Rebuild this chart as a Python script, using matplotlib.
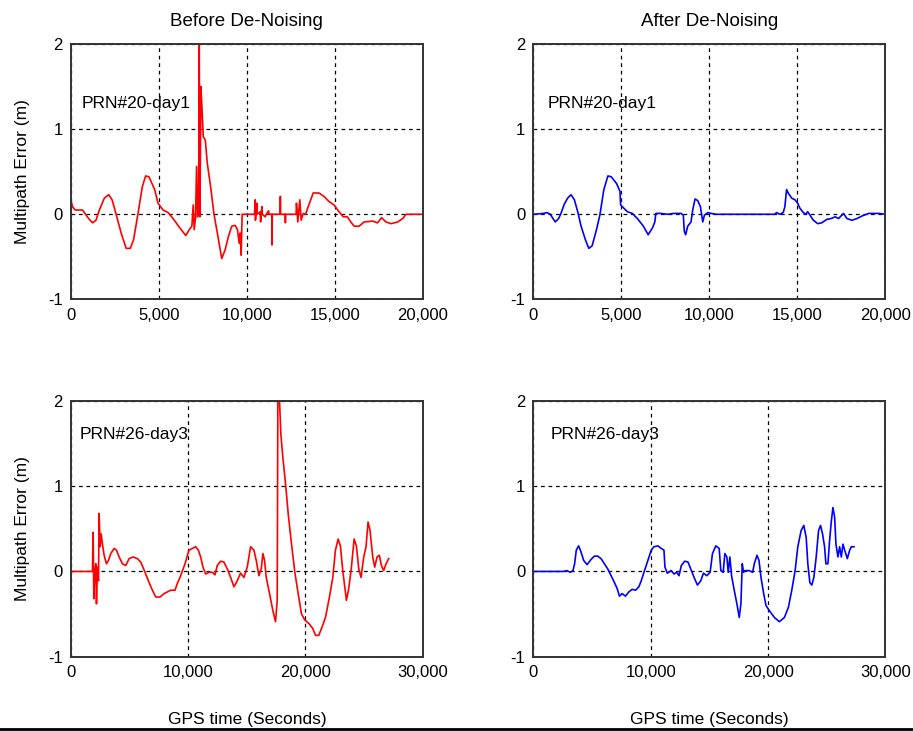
import matplotlib
matplotlib.use("Agg")
import matplotlib.pyplot as plt
from matplotlib.lines import Line2D
from matplotlib.ticker import StrMethodFormatter

plt.rcParams['font.family'] = ['Liberation Sans', 'DejaVu Sans']
plt.rcParams['axes.unicode_minus'] = False

# PRN#20 day1, before de-noising (red)
tl_x = [0, 95, 248, 667, 762, 1048, 1238, 1429, 1619, 1905, 2153, 2343, 2572, 2858,
        3143, 3372, 3562, 3810, 4058, 4248, 4439, 4763, 4953, 5239, 5525, 5810, 6191,
        6534, 6725, 6877, 6953, 7010, 7087, 7144, 7201, 7258, 7296, 7334, 7391, 7448,
        7525, 7639, 7753, 7944, 8134, 8325, 8573, 8763, 8953, 9144, 9334, 9468, 9563,
        9620, 9677, 9734, 10440, 10478, 10490, 10520, 10573, 10590, 10764, 10780, 10859,
        10880, 11049, 11100, 11240, 11260, 11420, 11430, 11445, 11890, 11906, 11920,
        12180, 12192, 12205, 12800, 12821, 12897, 13011, 13087, 13201, 13334, 13525,
        13772, 14096, 14382, 14668, 14953, 15239, 15486, 15715, 15906, 16096, 16382,
        16668, 17144, 17430, 17659, 17906, 18192, 18573, 18859, 19050, 20000]
tl_y = [0.17, 0.09, 0.05, 0.05, 0.02, -0.06, -0.10, -0.07, 0.05, 0.19, 0.23, 0.17, 0.0,
        -0.22, -0.40, -0.40, -0.30, 0.0, 0.32, 0.45, 0.44, 0.29, 0.13, 0.05, 0.02, -0.05,
        -0.16, -0.25, -0.18, -0.14, 0.11, -0.18, -0.03, 0.56, -0.03, 0.05, 2.0, -0.03,
        1.50, 1.26, 0.91, 0.87, 0.60, 0.32, 0.0, -0.22, -0.52, -0.42, -0.26, -0.14, -0.13,
        -0.18, -0.34, -0.22, -0.48, 0.0, 0.0, 0.17, -0.07, 0.0, 0.13, 0.0, 0.03, -0.09,
        0.09, 0.0, -0.03, 0.0, 0.04, 0.0, 0.0, -0.36, 0.0, 0.0, 0.21, 0.0, 0.0, -0.10,
        0.0, 0.0, 0.13, -0.09, 0.17, -0.07, 0.01, 0.0, 0.11, 0.25, 0.25, 0.21, 0.15,
        0.11, 0.03, -0.03, -0.03, -0.09, -0.14, -0.14, -0.09, -0.08, -0.10, -0.04, -0.09,
        -0.11, -0.09, -0.05, 0.0, 0.0]

# PRN#20 day1, after de-noising (blue)
tr_x = [0, 571, 762, 952, 1143, 1238, 1429, 1562, 1753, 1943, 2134, 2324, 2515, 2705,
        2953, 3143, 3334, 3581, 3772, 4000, 4229, 4420, 4724, 4915, 4953, 5144, 5334,
        5620, 5905, 6248, 6515, 6763, 6896, 6953, 7239, 7620, 8001, 8382, 8515, 8572,
        8648, 8763, 8953, 9048, 9182, 9334, 9486, 9620, 9715, 9906, 10096, 10382, 13716,
        13811, 14001, 14192, 14287, 14382, 14477, 14668, 14858, 15010, 15144, 15334,
        15467, 15581, 15715, 15905, 16153, 16382, 16668, 16915, 17144, 17334, 17620,
        17811, 18096, 18382, 18668, 19050, 19620, 20000]
tr_y = [0.0, 0.01, 0.02, 0.0, -0.06, -0.09, -0.05, 0.01, 0.12, 0.19, 0.23, 0.17, 0.03,
        -0.14, -0.30, -0.40, -0.37, -0.18, -0.01, 0.29, 0.45, 0.44, 0.36, 0.27, 0.11,
        0.07, 0.03, 0.01, -0.05, -0.14, -0.24, -0.16, -0.09, 0.01, 0.01, 0.0, 0.01, 0.01,
        -0.01, -0.20, -0.24, -0.14, -0.09, 0.05, 0.18, 0.16, 0.09, -0.09, -0.01, 0.02,
        0.01, 0.0, 0.0, 0.02, 0.0, 0.02, 0.09, 0.29, 0.25, 0.19, 0.17, 0.13, 0.07, 0.02,
        0.0, 0.03, -0.01, -0.07, -0.11, -0.10, -0.06, -0.05, -0.03, -0.05, 0.01, -0.05,
        -0.07, -0.05, -0.02, 0.01, 0.01, 0.0]

# PRN#26 day3, before de-noising (red)
bl_x = [0, 1844, 1901, 1957, 2043, 2128, 2184, 2270, 2355, 2411, 2497, 2582, 2695, 2837,
        3035, 3206, 3404, 3688, 3887, 4114, 4397, 4681, 4965, 5305, 5674, 5958, 6327,
        6667, 6951, 7235, 7603, 7944, 8228, 8511, 8880, 9078, 9362, 9731, 10071, 10355,
        10639, 10866, 11064, 11263, 11490, 11773, 12057, 12284, 12483, 12766, 13050,
        13334, 13618, 13902, 14185, 14469, 14752, 15036, 15320, 15604, 15802, 16029,
        16228, 16370, 16511, 16653, 16937, 17220, 17447, 17589, 17646, 17788, 17901,
        18071, 18298, 18525, 18809, 19092, 19376, 19659, 19943, 20283, 20624, 20851,
        21134, 21418, 21702, 22042, 22326, 22553, 22780, 22978, 23177, 23347, 23489,
        23688, 23915, 24142, 24340, 24539, 24737, 24964, 25163, 25333, 25503, 25730,
        25900, 26099, 26297, 26467, 26666, 26864, 27091]
bl_y = [0.0, 0.0, 0.46, -0.32, 0.0, 0.09, -0.38, 0.05, -0.11, 0.68, 0.29, 0.44, 0.32,
        0.19, 0.09, 0.13, 0.21, 0.27, 0.25, 0.17, 0.09, 0.07, 0.15, 0.17, 0.15, 0.11,
        -0.01, -0.13, -0.22, -0.30, -0.30, -0.26, -0.24, -0.22, -0.22, -0.14, -0.05,
        0.09, 0.25, 0.27, 0.29, 0.25, 0.17, 0.05, -0.03, -0.01, -0.01, -0.04, 0.07, 0.12,
        0.11, 0.03, -0.07, -0.18, -0.11, -0.02, -0.07, 0.05, 0.29, 0.25, 0.13, -0.05,
        0.03, 0.21, 0.13, -0.07, -0.26, -0.46, -0.59, -0.34, 2.0, 2.0, 1.61, 1.34, 1.03,
        0.68, 0.32, -0.01, -0.26, -0.50, -0.57, -0.61, -0.67, -0.75, -0.75, -0.65, -0.54,
        -0.30, -0.07, 0.25, 0.38, 0.30, 0.01, -0.18, -0.34, -0.20, 0.05, 0.38, 0.30,
        0.03, -0.07, 0.17, 0.29, 0.58, 0.48, 0.17, 0.05, 0.17, 0.19, 0.07, 0.01, 0.09,
        0.15]

# PRN#26 day3, after de-noising (blue)
br_x = [0, 2567, 2852, 3137, 3365, 3508, 3651, 3850, 4050, 4278, 4563, 4906, 5191, 5476,
        5761, 6046, 6331, 6617, 6902, 7130, 7330, 7558, 7843, 8128, 8413, 8699, 8984,
        9183, 9468, 9754, 10039, 10267, 10609, 10894, 11123, 11208, 11408, 11750, 11978,
        12207, 12406, 12606, 12891, 13176, 13404, 13690, 13975, 14260, 14488, 14773,
        15058, 15258, 15543, 15828, 15971, 16171, 16314, 16485, 16599, 16741, 16884,
        17112, 17340, 17540, 17682, 17796, 17910, 18024, 18395, 18680, 18823, 19051,
        19222, 19393, 19621, 19821, 20106, 20534, 20962, 21390, 21732, 22017, 22302,
        22531, 22816, 23044, 23244, 23386, 23557, 23728, 23900, 24099, 24299, 24470,
        24641, 24812, 24926, 25097, 25240, 25382, 25525, 25668, 25782, 25953, 26096,
        26239, 26381, 26524, 26752, 26952, 27094, 27322]
br_y = [0.0, 0.0, 0.01, -0.01, 0.01, 0.09, 0.25, 0.30, 0.23, 0.13, 0.08, 0.14, 0.18,
        0.18, 0.15, 0.09, 0.03, -0.05, -0.13, -0.20, -0.29, -0.26, -0.29, -0.24, -0.21,
        -0.22, -0.18, -0.11, 0.01, 0.13, 0.25, 0.29, 0.30, 0.27, 0.25, 0.05, -0.02, 0.01,
        -0.03, -0.01, -0.05, 0.07, 0.12, 0.11, 0.03, -0.07, -0.16, -0.11, -0.02, -0.05,
        -0.01, 0.21, 0.30, 0.27, 0.01, -0.01, 0.21, 0.17, -0.01, 0.17, -0.05, -0.22,
        -0.38, -0.54, -0.38, 0.09, -0.01, 0.01, 0.01, -0.01, 0.09, 0.19, 0.13, -0.07,
        -0.26, -0.40, -0.46, -0.54, -0.59, -0.54, -0.42, -0.22, 0.01, 0.29, 0.48, 0.54,
        0.40, 0.09, -0.13, -0.16, -0.07, 0.17, 0.48, 0.54, 0.44, 0.29, 0.09, 0.09, 0.36,
        0.58, 0.75, 0.64, 0.32, 0.17, 0.29, 0.17, 0.32, 0.25, 0.15, 0.25, 0.29, 0.29]

titles = ["Before De-Noising", "After De-Noising"]
labels = ["PRN#20-day1", "PRN#26-day3"]
ylabel = "Multipath Error (m)"
xlabel = "GPS time (Seconds)"

fig = plt.figure(figsize=(9.13, 7.31), dpi=100)

# axes boxes in figure fractions
lefts = [0.0776, 0.5843]
bottoms = [0.5903, 0.1017]
w, h = 0.3855, 0.3497

panels = [
    (0, 0, tl_x, tl_y, 'red', 20000, 5000, (0.032, 0.765)),
    (0, 1, tr_x, tr_y, 'blue', 20000, 5000, (0.039, 0.765)),
    (1, 0, bl_x, bl_y, 'red', 30000, 10000, (0.026, 0.870)),
    (1, 1, br_x, br_y, 'blue', 30000, 10000, (0.050, 0.870)),
]

for row, col, xs, ys, colr, xmax, step, txtpos in panels:
    ax = fig.add_axes([lefts[col], bottoms[row], w, h])
    ax.plot(xs, ys, color=colr, lw=1.2)
    ax.set_xlim(0, xmax)
    ax.set_ylim(-1, 2)
    ax.set_xticks(list(range(0, xmax + 1, step)))
    ax.set_yticks([-1, 0, 1, 2])
    ax.xaxis.set_major_formatter(StrMethodFormatter('{x:,.0f}'))
    ax.grid(True, color='black', linestyle=(0, (3, 3)), lw=0.9)
    ax.tick_params(length=0, labelsize=12, pad=6)
    for s in ax.spines.values():
        s.set_color('#333333')
        s.set_linewidth(1.4)
    ax.text(txtpos[0], txtpos[1], labels[row], transform=ax.transAxes,
            fontsize=12.5, va='center', ha='left')
    if row == 0:
        ax.set_title(titles[col], fontsize=13.5, pad=13)
    else:
        ax.set_xlabel(xlabel, fontsize=12.5)
        ax.xaxis.set_label_coords(0.5, -0.215)
    if col == 0:
        ax.set_ylabel(ylabel, fontsize=12.5)
        ax.yaxis.set_label_coords(-0.116, 0.5)

fig.add_artist(Line2D([0, 1], [0.003, 0.003], color='black', lw=2))

fig.savefig('out.png', dpi=100)
